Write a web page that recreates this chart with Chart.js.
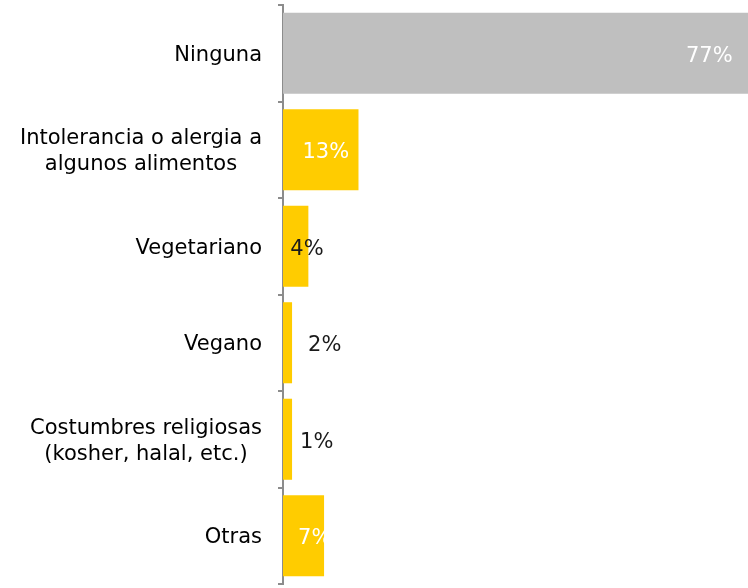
<!doctype html>
<html lang="es">
<head>
<meta charset="utf-8">
<title>Restricciones alimentarias</title>
<script src="https://cdn.jsdelivr.net/npm/chart.js@4.4.1/dist/chart.umd.min.js"></script>
<style>
  * { box-sizing: border-box; }
  html, body { margin: 0; padding: 0; background: #ffffff; }
  .wrap { position: relative; width: 748px; height: 588px; }
</style>
</head>
<body>
<div class="wrap"><canvas id="chart"></canvas></div>
<script>
// datos
const categories = [
  'Ninguna',
  ['Intolerancia o alergia a', 'algunos alimentos'],
  'Vegetariano',
  'Vegano',
  ['Costumbres religiosas', '(kosher, halal, etc.)'],
  'Otras'
];
const values = [77, 12.5, 4.2, 1.5, 1.5, 6.8];
const valueLabels = ['77%', '13%', '4%', '2%', '1%', '7%'];

// estilo de barras y etiquetas
const barColors = ['#bfbfbf', '#ffcc00', '#ffcc00', '#ffcc00', '#ffcc00', '#ffcc00'];
const labelColors = ['#ffffff', '#ffffff', '#1a1a1a', '#1a1a1a', '#1a1a1a', '#ffffff'];
const labelShift = [-62, -56, -18, 16, 8, -26];

const FONT = "'DejaVu Sans', Verdana, sans-serif";
const FONT_SIZE = 21;
const LINE_H = 26;

// etiquetas de categoría: bloque alineado a la derecha, líneas centradas
const categoryLabelPlugin = {
  id: 'categoryLabels',
  afterDraw(chart) {
    const ctx = chart.ctx;
    const yScale = chart.scales.y;
    const rightX = yScale.right - 21;
    ctx.save();
    ctx.font = FONT_SIZE + 'px ' + FONT;
    ctx.fillStyle = '#000000';
    ctx.textAlign = 'center';
    ctx.textBaseline = 'middle';
    categories.forEach(function (label, i) {
      const lines = Array.isArray(label) ? label : [label];
      const maxW = Math.max.apply(null, lines.map(function (l) { return ctx.measureText(l).width; }));
      const cx = rightX - maxW / 2;
      const y0 = yScale.getPixelForTick(i) + 2 - (lines.length - 1) * LINE_H / 2;
      lines.forEach(function (l, j) {
        ctx.fillText(l, cx, y0 + j * LINE_H);
      });
    });
    ctx.restore();
  }
};

const valueLabelPlugin = {
  id: 'valueLabels',
  afterDatasetsDraw(chart) {
    const ctx = chart.ctx;
    const meta = chart.getDatasetMeta(0);
    ctx.save();
    ctx.font = FONT_SIZE + 'px ' + FONT;
    ctx.textAlign = 'left';
    ctx.textBaseline = 'middle';
    meta.data.forEach(function (bar, i) {
      ctx.fillStyle = labelColors[i];
      ctx.fillText(valueLabels[i], bar.x + labelShift[i], bar.y + 3);
    });
    ctx.restore();
  }
};

new Chart(document.getElementById('chart').getContext('2d'), {
  type: 'bar',
  data: {
    labels: categories,
    datasets: [{
      data: values,
      backgroundColor: barColors,
      borderWidth: 0,
      barPercentage: 0.84,
      categoryPercentage: 1
    }]
  },
  options: {
    indexAxis: 'y',
    responsive: true,
    maintainAspectRatio: false,
    animation: false,
    layout: { padding: { top: 5, bottom: 4, left: 0, right: 0 } },
    scales: {
      x: {
        display: false,
        min: 0,
        max: 77
      },
      y: {
        afterFit: function (scale) {
          scale.width = 283;
          scale.paddingTop = 0;
          scale.paddingBottom = 0;
        },
        border: { display: true, color: '#8c8c8c', width: 2 },
        grid: {
          display: true,
          offset: true,
          drawOnChartArea: false,
          drawTicks: true,
          tickLength: 5,
          color: '#8c8c8c',
          lineWidth: 2
        },
        ticks: { display: false }
      }
    },
    plugins: {
      legend: { display: false },
      tooltip: { enabled: false }
    }
  },
  plugins: [valueLabelPlugin, categoryLabelPlugin]
});
</script>
</body>
</html>
